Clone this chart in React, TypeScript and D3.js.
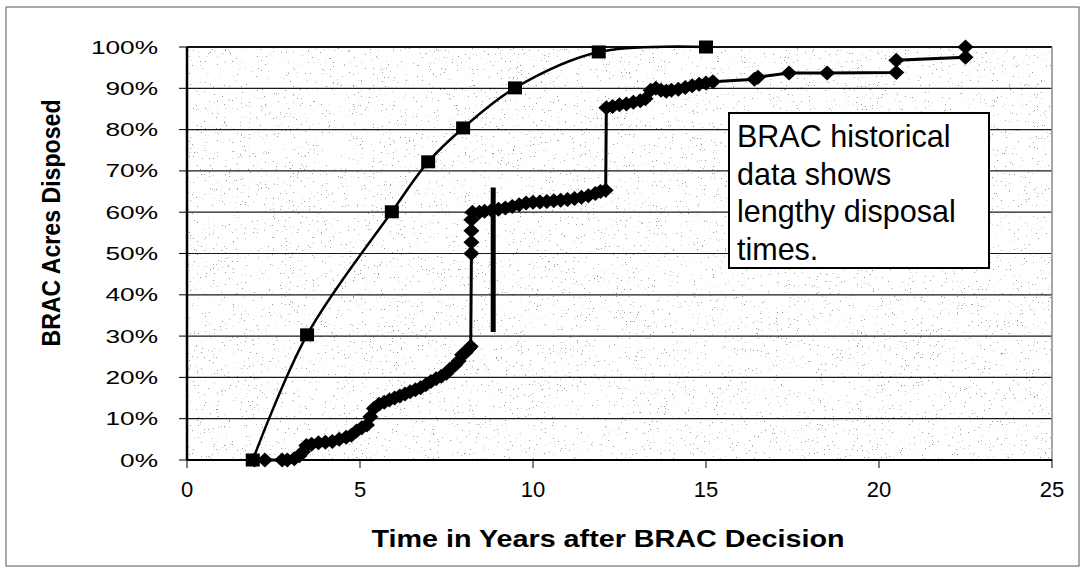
import React from "react";
import * as d3 from "d3";

// ---- data ----
const xTicks = [0, 5, 10, 15, 20, 25];
const yTicks = [0, 0.1, 0.2, 0.3, 0.4, 0.5, 0.6, 0.7, 0.8, 0.9, 1.0];

// smoothed curve with square markers
const curveYears = [1.9, 3.47, 5.92, 6.97, 7.98, 9.48, 11.9, 15.0];
const curvePct = [0, 0.303, 0.601, 0.722, 0.804, 0.901, 0.988, 1.0];

// historical data with diamond markers
const histYears = [
  1.95, 2.25, 2.75, 2.9, 3.1, 3.25, 3.35, 3.45, 3.6, 3.8, 4.0, 4.2, 4.4, 4.6, 4.75, 4.9,
  5.05, 5.2, 5.3, 5.4, 5.55, 5.7, 5.85, 6.0, 6.15, 6.3, 6.45, 6.6, 6.75, 6.9, 7.05, 7.2,
  7.35, 7.5, 7.6, 7.75, 7.85, 7.95, 8.05, 8.15, 8.2, 8.22, 8.22, 8.22, 8.22, 8.25, 8.45,
  8.6, 8.8, 9.0, 9.2, 9.4, 9.6, 9.8, 10.0, 10.2, 10.4, 10.6, 10.8, 11.0, 11.2, 11.4, 11.6,
  11.8, 11.95, 12.1, 12.12, 12.3, 12.5, 12.7, 12.9, 13.1, 13.25, 13.4, 13.55, 13.7, 13.85,
  14.0, 14.2, 14.4, 14.6, 14.8, 15.0, 15.2, 16.4, 16.5, 17.4, 18.5, 20.5, 20.5, 22.5, 22.5,
];
const histPct = [
  0, 0, 0, 0, 0.003, 0.01, 0.02, 0.035, 0.038, 0.042, 0.043, 0.045, 0.05, 0.055, 0.06, 0.07,
  0.078, 0.085, 0.105, 0.125, 0.135, 0.14, 0.145, 0.15, 0.155, 0.16, 0.165, 0.17, 0.175, 0.182, 0.19, 0.197,
  0.203, 0.21, 0.22, 0.23, 0.24, 0.255, 0.26, 0.27, 0.275, 0.5, 0.527, 0.555, 0.582, 0.6, 0.6,
  0.602, 0.605, 0.607, 0.61, 0.614, 0.618, 0.622, 0.624, 0.625, 0.626, 0.628, 0.629, 0.631, 0.633, 0.636, 0.64,
  0.645, 0.65, 0.653, 0.853, 0.856, 0.86, 0.862, 0.866, 0.87, 0.875, 0.895, 0.9, 0.895, 0.893,
  0.895, 0.898, 0.902, 0.906, 0.91, 0.913, 0.916, 0.922, 0.927, 0.937, 0.937, 0.938, 0.968, 0.975, 1.0,
];

// hand-drawn vertical marker
const markerYear = 8.85;
const markerFrom = 0.31;
const markerTo = 0.66;

const noteLines = ["BRAC historical", "data shows", "lengthy disposal", "times."];
const xTitle = "Time in Years after BRAC Decision";
const yTitle = "BRAC Acres Disposed";

export default function App() {
  const x = d3.scaleLinear().domain([0, 25]).range([187, 1052]);
  const y = d3.scaleLinear().domain([0, 1]).range([460, 47]);
  const pctFmt = d3.format(".0%");

  const curveLine = d3
    .line<number>()
    .x((d) => x(curveYears[d]))
    .y((d) => y(curvePct[d]))
    .curve(d3.curveCatmullRom.alpha(0.5));
  const histLine = d3
    .line<number>()
    .x((d) => x(histYears[d]))
    .y((d) => y(histPct[d]));

  const diamond = (cx: number, cy: number) =>
    `M${cx},${cy - 7.5}L${cx + 8},${cy}L${cx},${cy + 7.5}L${cx - 8},${cy}Z`;

  const [x0, x1] = x.range();
  const [yb, yt] = y.range();
  const font = "Arial, 'Liberation Sans', Helvetica, sans-serif";

  return (
    <svg
      width={1084}
      height={581}
      style={{ position: "absolute", left: 0, top: 0, background: "#fff" }}
      fontFamily={font}
    >
      <defs>
        <filter id="speckle" filterUnits="userSpaceOnUse" x={x0} y={yt} width={x1 - x0} height={yb - yt}>
          <feTurbulence type="fractalNoise" baseFrequency="0.75" numOctaves="2" seed="7" result="n" />
          <feColorMatrix
            in="n"
            type="matrix"
            values="0 0 0 0 0.3  0 0 0 0 0.3  0 0 0 0 0.3  16 0 0 0 -11.3"
          />
        </filter>
      </defs>

      {/* outer frame */}
      <rect x={6} y={7} width={1073} height={559} fill="none" stroke="#555" strokeWidth={1} />

      {/* plot background with speckle */}
      <rect x={x0} y={yt} width={x1 - x0} height={yb - yt} fill="#fff" />
      <rect x={x0} y={yt} width={x1 - x0} height={yb - yt} fill="#fff" filter="url(#speckle)" />

      {/* gridlines */}
      {yTicks.map((t) => (
        <line key={t} x1={x0} x2={x1} y1={y(t)} y2={y(t)} stroke="#1a1a1a" strokeWidth={1.2} />
      ))}
      {/* plot borders */}
      <line x1={x0} x2={x1} y1={yt} y2={yt} stroke="#111" strokeWidth={2} />
      <line x1={x1} x2={x1} y1={yt} y2={yb} stroke="#888" strokeWidth={1.5} />
      <line x1={x0} x2={x0} y1={yt} y2={yb} stroke="#000" strokeWidth={2.5} />
      <line x1={x0} x2={x1} y1={yb} y2={yb} stroke="#000" strokeWidth={2} />

      {/* ticks */}
      {yTicks.map((t) => (
        <line key={"yt" + t} x1={x0 - 8} x2={x0} y1={y(t)} y2={y(t)} stroke="#000" strokeWidth={1} />
      ))}
      {xTicks.map((t) => (
        <line key={"xt" + t} x1={x(t)} x2={x(t)} y1={yb} y2={yb + 8} stroke="#000" strokeWidth={1} />
      ))}

      {/* y tick labels */}
      {yTicks.map((t) => (
        <text
          key={"yl" + t}
          transform={`translate(158,${y(t) + 6.5}) scale(1.5,1)`}
          textAnchor="end"
          fontSize={17.5}
          fill="#000"
        >
          {pctFmt(t)}
        </text>
      ))}
      {/* x tick labels */}
      {xTicks.map((t) => (
        <text key={"xl" + t} x={x(t)} y={497} textAnchor="middle" fontSize={22} fill="#000">
          {t}
        </text>
      ))}

      {/* axis titles */}
      <text
        x={608}
        y={547}
        textAnchor="middle"
        fontSize={23}
        fontWeight="bold"
        textLength={473}
        lengthAdjust="spacingAndGlyphs"
      >
        {xTitle}
      </text>
      <text
        transform="translate(51,223) scale(1.4,1) rotate(-90)"
        x={0}
        y={6.4}
        textAnchor="middle"
        fontSize={18}
        fontWeight="bold"
        textLength={247}
        lengthAdjust="spacingAndGlyphs"
      >
        {yTitle}
      </text>

      {/* smoothed curve with squares */}
      <path d={curveLine(d3.range(curveYears.length)) || ""} fill="none" stroke="#000" strokeWidth={2.5} />
      {curveYears.map((yr, i) => (
        <rect key={"sq" + i} x={x(yr) - 7} y={y(curvePct[i]) - 6.5} width={14} height={13} fill="#000" />
      ))}

      {/* historical series with diamonds */}
      <path d={histLine(d3.range(histYears.length)) || ""} fill="none" stroke="#000" strokeWidth={3} />
      {histYears.map((yr, i) => (
        <path key={"dm" + i} d={diamond(x(yr), y(histPct[i]))} fill="#000" />
      ))}

      {/* vertical marker bar */}
      <line
        x1={x(markerYear)}
        x2={x(markerYear)}
        y1={y(markerFrom)}
        y2={y(markerTo)}
        stroke="#000"
        strokeWidth={5}
      />

      {/* annotation box */}
      <rect x={729} y={113} width={260} height={155} fill="#fff" stroke="#000" strokeWidth={2} />
      {noteLines.map((s, i) => (
        <text key={s} x={737} y={147 + i * 37.5} fontSize={30.5} fill="#000">
          {s}
        </text>
      ))}
    </svg>
  );
}
